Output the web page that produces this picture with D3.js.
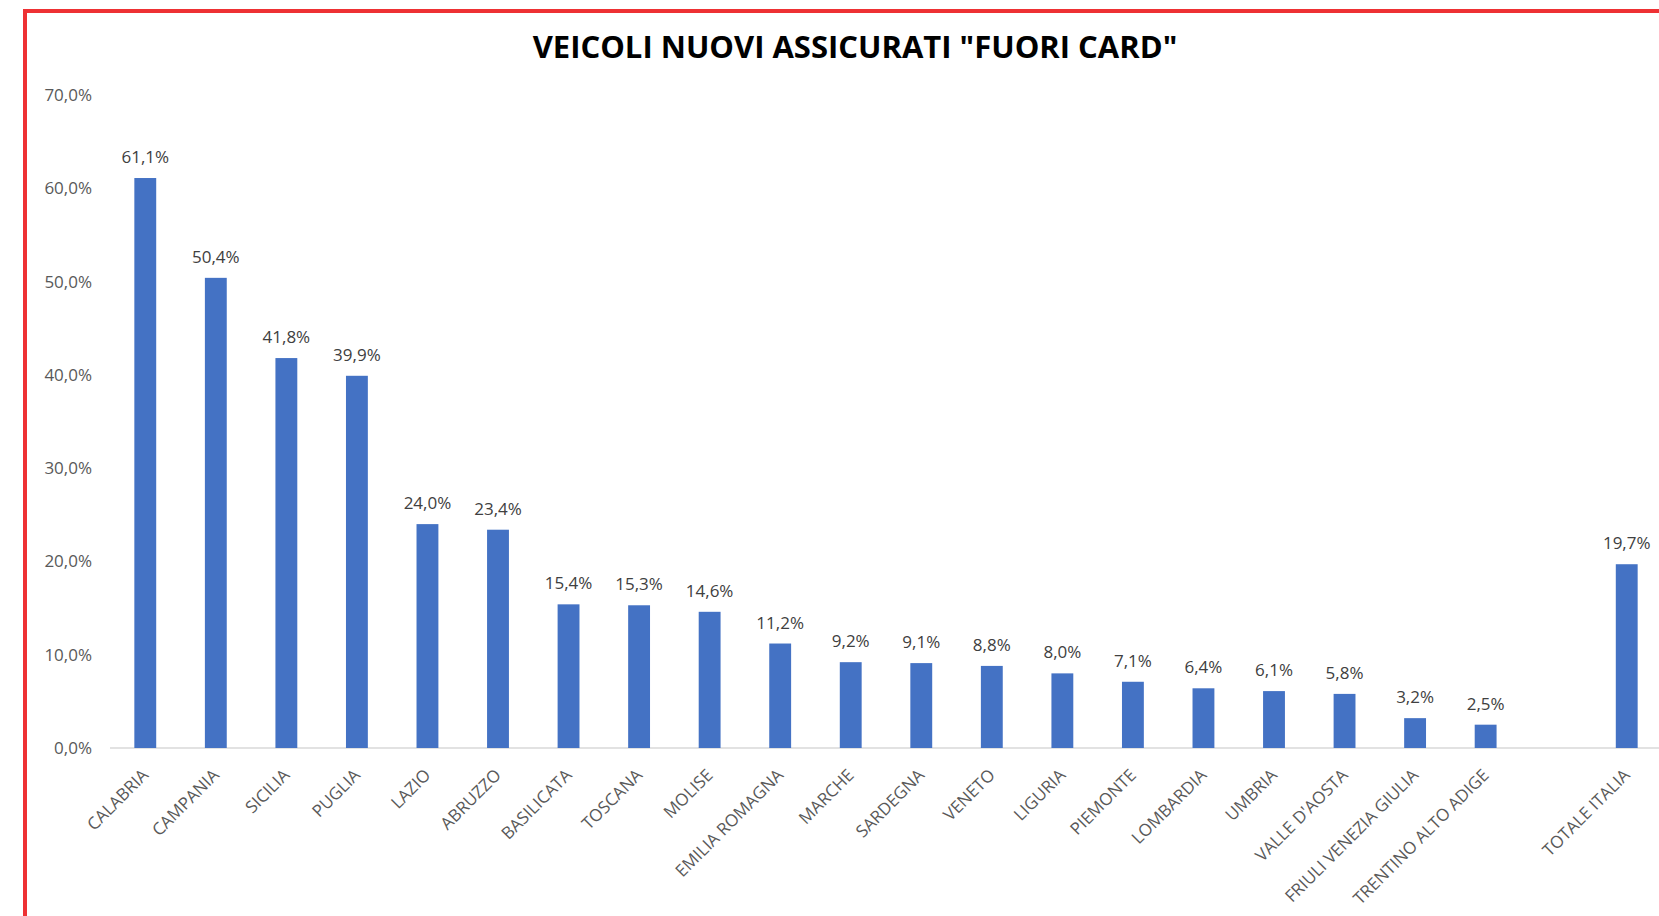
<!DOCTYPE html>
<html>
<head>
<meta charset="utf-8">
<script src="https://cdn.jsdelivr.net/npm/d3@7"></script>
<style>
  html, body { margin: 0; padding: 0; background: #fff; }
  svg { display: block; }
</style>
</head>
<body>
<div id="chart"></div>
<script>
// dati
var regioni = ["CALABRIA", "CAMPANIA", "SICILIA", "PUGLIA", "LAZIO", "ABRUZZO",
  "BASILICATA", "TOSCANA", "MOLISE", "EMILIA ROMAGNA", "MARCHE", "SARDEGNA",
  "VENETO", "LIGURIA", "PIEMONTE", "LOMBARDIA", "UMBRIA", "VALLE D'AOSTA",
  "FRIULI VENEZIA GIULIA", "TRENTINO ALTO ADIGE", "", "TOTALE ITALIA"];
var valori = [61.1, 50.4, 41.8, 39.9, 24.0, 23.4, 15.4, 15.3, 14.6, 11.2, 9.2, 9.1,
  8.8, 8.0, 7.1, 6.4, 6.1, 5.8, 3.2, 2.5, null, 19.7];
var yTicks = [0, 10, 20, 30, 40, 50, 60, 70];
var titolo = 'VEICOLI NUOVI ASSICURATI "FUORI CARD"';

var width = 1659;
var height = 916;

var svg = d3.select("#chart").append("svg")
  .attr("width", width)
  .attr("height", height);

svg.append("rect").attr("width", width).attr("height", height).attr("fill", "#fff");

// slot keys (the empty one keeps the gap before the total)
var keys = regioni.map(function (d, i) { return i; });

var x = d3.scaleBand()
  .domain(keys)
  .range([110, 1662])
  .paddingInner(0.69)
  .paddingOuter(0.345);

var y = d3.scaleLinear()
  .domain([0, 70])
  .range([748, 95]);

var fmt = function (v) { return d3.format(".1f")(v).replace(".", ",") + "%"; };

// asse y (solo etichette)
var yAxis = svg.append("g")
  .attr("transform", "translate(92,0)")
  .call(d3.axisLeft(y).tickValues(yTicks).tickSize(0).tickPadding(0).tickFormat(fmt));
yAxis.select(".domain").remove();
yAxis.selectAll("text")
  .attr("font-family", "'Open Sans', sans-serif")
  .attr("font-size", 17)
  .attr("fill", "#595959");

// linea base
svg.append("line")
  .attr("x1", 110).attr("x2", width)
  .attr("y1", y(0)).attr("y2", y(0))
  .attr("stroke", "#d9d9d9")
  .attr("stroke-width", 1.5);

var data = keys.filter(function (i) { return valori[i] != null; });

// barre
svg.selectAll("rect.bar")
  .data(data)
  .enter()
  .append("rect")
  .attr("class", "bar")
  .attr("x", function (i) { return x(i); })
  .attr("y", function (i) { return y(valori[i]); })
  .attr("width", x.bandwidth())
  .attr("height", function (i) { return y(0) - y(valori[i]); })
  .attr("fill", "#4472c4");

// etichette valori
svg.selectAll("text.val")
  .data(data)
  .enter()
  .append("text")
  .attr("class", "val")
  .attr("x", function (i) { return x(i) + x.bandwidth() / 2; })
  .attr("y", function (i) { return y(valori[i]) - 15; })
  .attr("text-anchor", "middle")
  .attr("font-family", "'Open Sans', sans-serif")
  .attr("font-size", 17)
  .attr("fill", "#404040")
  .text(function (i) { return fmt(valori[i]); });

// etichette categorie
svg.selectAll("text.cat")
  .data(data)
  .enter()
  .append("text")
  .attr("class", "cat")
  .attr("text-anchor", "end")
  .attr("transform", function (i) {
    var cx = x(i) + x.bandwidth() / 2;
    return "translate(" + cx + "," + (y(0) + 24) + ") rotate(-45)";
  })
  .attr("dy", "0.35em")
  .attr("font-family", "'Open Sans', sans-serif")
  .attr("font-size", 17)
  .attr("fill", "#595959")
  .text(function (i) { return regioni[i]; });

// titolo
svg.append("text")
  .attr("x", 855)
  .attr("y", 58)
  .attr("text-anchor", "middle")
  .attr("font-family", "'Open Sans', sans-serif")
  .attr("font-weight", "bold")
  .attr("font-size", 31)
  .attr("fill", "#000")
  .text(titolo);

// bordo rosso
svg.append("path")
  .attr("d", "M25," + height + "V11H" + width)
  .attr("fill", "none")
  .attr("stroke", "#ee3134")
  .attr("stroke-width", 4);
</script>
</body>
</html>
